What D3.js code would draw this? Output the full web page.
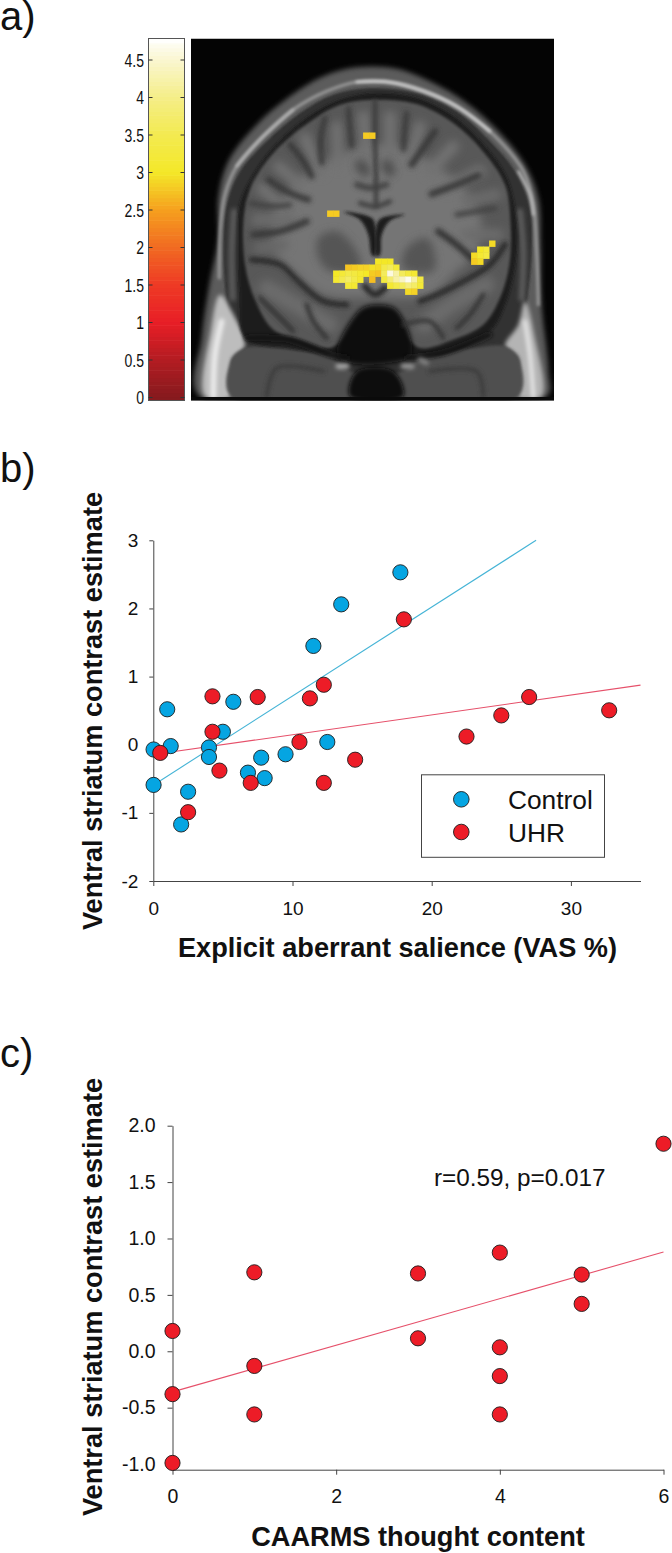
<!DOCTYPE html>
<html>
<head>
<meta charset="utf-8">
<script src="https://cdn.jsdelivr.net/npm/d3@7"></script>
<style>
  body { margin: 0; background: #fff; }
  svg { display: block; }
  text { font-family: "Liberation Sans", Arial, sans-serif; fill: #111; }
</style>
</head>
<body>
<div id="chart"></div>
<script>
// panel b
var controlX = [0.02, 1.0, 1.25, 0.02, 2.5, 2.0, 4.0, 4.0, 5.0, 5.75, 6.8, 7.75, 8.0, 9.5, 11.5, 12.5, 13.5, 17.75];
var controlY = [-0.07, 0.52, -0.02, -0.59, -0.69, -1.17, -0.04, -0.18, 0.19, 0.63, -0.41, -0.19, -0.49, -0.14, 1.45, 0.04, 2.06, 2.53];
var uhrX = [0.5, 2.5, 4.25, 4.25, 4.75, 7.0, 7.5, 10.5, 11.25, 12.25, 12.25, 14.5, 18.0, 22.5, 25.0, 27.0, 32.75];
var uhrY = [-0.12, -0.99, 0.71, 0.19, -0.38, -0.56, 0.70, 0.04, 0.68, 0.88, -0.56, -0.22, 1.84, 0.12, 0.43, 0.70, 0.505];
var controlFit = [[0.02, -0.59], [27.5, 3]];
var uhrFit = [[0.5, -0.13], [35, 0.875]];
var salienceTicks = [0, 10, 20, 30];
var contrastTicks = [-2, -1, 0, 1, 2, 3];

// panel c
var caarmsX = [0, 0, 0, 1, 1, 1, 3, 3, 4, 4, 4, 4, 5, 5, 6];
var caarmsY = [0.18, -0.38, -0.99, 0.70, -0.13, -0.56, 0.69, 0.115, 0.875, 0.035, -0.22, -0.56, 0.68, 0.42, 1.84];
var caarmsFit = [[0, -0.36], [6, 0.88]];
var caarmsTicks = [0, 2, 4, 6];
var caarmsYTicks = [-1, -0.5, 0, 0.5, 1, 1.5, 2];

// panel a colour bar
var barTicks = [0, 0.5, 1, 1.5, 2, 2.5, 3, 3.5, 4, 4.5];
var barValues = [0, 0.5, 1, 1.5, 2, 2.5, 3, 3.5, 4, 4.5, 4.8];
var barColors = ["#861a1e", "#b31c22", "#e81e26", "#ee3a25", "#f16a22", "#f6a01e", "#f4e828", "#f3ea50", "#f5ee88", "#faf6d0", "#ffffff"];

// activation voxels, [column, row, t value]
var voxels = [
  [5, -21, 2.8], [6, -21, 2.8], [-1, -8, 2.8], [0, -8, 2.8],
  [26, -3, 2.9], [24, -2, 3.0], [25, -2, 3.2], [23, -1, 2.9], [24, -1, 3.1], [25, -1, 3.3], [23, 0, 2.8], [24, 0, 2.9],
  [7, 0, 3.0], [8, 0, 3.0], [9, 0, 3.0],
  [2, 1, 2.75], [3, 1, 2.8], [4, 1, 2.85], [5, 1, 2.85], [6, 1, 2.95], [7, 1, 2.9], [8, 1, 3.4], [9, 1, 3.6], [10, 1, 3.2],
  [0, 2, 3.0], [1, 2, 3.2], [2, 2, 3.4], [3, 2, 3.3], [4, 2, 3.1], [5, 2, 3.0], [6, 2, 2.8], [7, 2, 2.75], [8, 2, 3.6], [9, 2, 4.6], [10, 2, 4.2], [11, 2, 3.6], [12, 2, 3.3], [13, 2, 3.1],
  [0, 3, 3.1], [1, 3, 3.5], [2, 3, 3.7], [3, 3, 3.4], [4, 3, 3.1], [6, 3, 2.7], [8, 3, 3.3], [9, 3, 3.8], [10, 3, 4.2], [11, 3, 4.4], [12, 3, 4.7], [13, 3, 4.2], [14, 3, 3.3],
  [2, 4, 3.2], [3, 4, 3.1], [9, 4, 3.1], [10, 4, 3.4], [11, 4, 3.6], [12, 4, 3.9], [13, 4, 3.7], [14, 4, 3.2],
  [12, 5, 2.9], [13, 5, 2.85]
];

// backdrop scan, traced by hand: [points, fill, stroke, stroke width, blur, closed]
var scanLayers = [
  [[[28,1075],[35,900],[60,730],[85,600],[85,480],[115,370],[200,260],[300,175],[400,115],[500,88],[620,92],[720,130],[830,195],[930,285],[1005,380],[1045,480],[1052,620],[1055,800],[1075,1000],[1070,1075]], "#5c5c5c", null, 0, 4, true],
  [[[135,990],[110,800],[100,640],[110,500],[150,400],[230,310],[330,225],[430,170],[540,150],[680,165],[800,220],[900,310],[975,400],[1020,510],[1025,650],[1010,800],[985,990]], "#303030", null, 0, 1.5, true],
  [[[88,720],[92,560],[105,470],[140,385],[210,305],[310,215],[410,160],[500,132],[620,135],[720,165],[830,225],[930,310],[1000,400],[1030,500],[1040,640],[1045,800]], null, "#989898", 7, 2, false],
  [[[500,132],[600,133],[700,160],[800,205],[900,280]], null, "#d0d0d0", 6, 2, false],
  [[[140,385],[210,305],[310,215]], null, "#b8b8b8", 5, 2, false],
  [[[985,400],[1020,470],[1030,530]], null, "#c4c4c4", 5, 2, false],
  // inner gray band along the sides
  [[[128,780],[125,640],[132,520]], null, "#5a5a5a", 14, 3, false],
  [[[995,780],[1000,640],[990,520]], null, "#5a5a5a", 14, 3, false],
  // bright fat by the ears
  [[[45,1075],[62,880],[90,770],[125,820],[165,925],[125,965],[122,1075]], "#bdbdbd", null, 0, 3, true],
  [[[985,1075],[985,960],[945,925],[985,860],[1005,790],[1035,900],[1055,1075]], "#b4b4b4", null, 0, 3, true],
  [[[70,1075],[75,950],[95,850]], null, "#eee", 12, 3, false],
  [[[1030,1075],[1020,950],[1005,850]], null, "#eee", 8, 3, false],
  // lower face
  [[[165,930],[260,930],[420,960],[480,1000],[640,1000],[700,950],[850,930],[945,925],[985,960],[985,1075],[122,1075],[125,965]], "#505050", null, 0, 2.5, true],
  [[[230,1075],[260,990],[400,1000]], null, "#3a3a3a", 8, 3, false],
  [[[880,1075],[860,1000],[720,1000]], null, "#3a3a3a", 8, 3, false],
  // dark ring round the brain
  [[[165,900],[148,760],[145,620],[150,500],[185,420],[250,330],[350,240],[450,185],[560,165],[680,180],[790,235],[880,320],[950,420],[980,560],[975,680],[945,800],[900,880],[760,950],[660,950],[460,950],[300,930]], "#1a1a1a", null, 0, 2.5, true],
  // brain
  [[[162,530],[188,435],[250,345],[350,258],[450,200],[560,185],[680,198],[790,255],[875,335],[945,440],[962,560],[958,680],[930,780],[880,860],[790,905],[690,930],[630,880],[560,830],[490,880],[420,930],[330,905],[250,875],[195,785],[165,680]], "#585858", null, 0, 2.5, true],
  // white matter
  [[[260,510],[320,430],[410,370],[500,330],[560,320],[640,330],[720,370],[810,440],[870,530],[860,640],[790,710],[720,770],[560,780],[400,770],[320,710],[250,630]], "#747474", null, 0, 7, true],
  // gyri reaching out of the white matter
  [[[530,360],[520,235]], null, "#727272", 26, 6, false],
  [[[445,380],[440,265]], null, "#727272", 24, 6, false],
  [[[390,400],[345,300]], null, "#727272", 26, 6, false],
  [[[330,440],[265,385]], null, "#727272", 24, 6, false],
  [[[300,530],[215,450]], null, "#727272", 24, 6, false],
  [[[300,545],[200,545]], null, "#6c6c6c", 26, 6, false],
  [[[280,620],[210,630]], null, "#686868", 26, 6, false],
  [[[600,360],[600,235]], null, "#727272", 26, 6, false],
  [[[660,370],[690,265]], null, "#727272", 26, 6, false],
  [[[720,400],[790,325]], null, "#727272", 26, 6, false],
  [[[770,450],[870,400]], null, "#727272", 26, 6, false],
  [[[830,490],[920,470]], null, "#6c6c6c", 24, 6, false],
  [[[830,590],[925,590]], null, "#6c6c6c", 26, 6, false],
  // temporal lobes
  [[[230,750],[300,790],[420,860]], null, "#6c6c6c", 36, 7, false],
  [[[890,740],[800,790],[700,860]], null, "#6c6c6c", 36, 7, false],
  // basal ganglia
  [[[385,600],[440,580],[500,640],[510,690],[420,700],[385,660]], "#545454", null, 0, 6, true],
  [[[640,690],[650,630],[710,600],[735,650],[730,700]], "#545454", null, 0, 6, true],
  // hollow below the brain
  [[[510,815],[560,800],[620,815],[665,950],[600,975],[480,975],[440,950]], "#0a0a0a", null, 0, 4, true],
  [[[480,1075],[500,1000],[610,1000],[640,1075]], "#080808", null, 0, 3, true],
  // ventricles
  [[[462,522],[510,545],[535,590],[545,650],[555,655],[555,560],[545,540]], "#1c1c1c", null, 0, 2.5, true],
  [[[645,530],[600,548],[575,590],[570,650],[560,655],[560,560],[575,540]], "#1c1c1c", null, 0, 2.5, true],
  // midline
  [[[555,190],[555,300],[558,420],[558,505]], null, "#3a3a3a", 9, 3.5, false],
  [[[500,440],[540,450],[590,440]], null, "#404040", 12, 4, false],
  [[[510,495],[555,505],[600,490]], null, "#404040", 10, 3, false],
  [[[510,380],[525,400]], null, "#484848", 22, 6, false],
  [[[590,380],[600,400]], null, "#484848", 22, 6, false],
  // sulci, left side
  [[[405,240],[392,300],[395,375]], null, "#383838", 11, 4, false],
  [[[475,210],[480,270],[485,325]], null, "#383838", 10, 4, false],
  [[[300,320],[340,370],[365,415]], null, "#383838", 13, 4, false],
  [[[235,425],[290,460],[355,485]], null, "#383838", 13, 4, false],
  [[[180,495],[250,505],[300,500]], null, "#424242", 11, 4, false],
  [[[190,590],[270,580],[350,550]], null, "#383838", 14, 4, false],
  [[[185,665],[270,680],[325,730],[400,790],[470,800]], null, "#2a2a2a", 12, 3.5, false],
  [[[210,780],[260,830],[310,880]], null, "#343434", 10, 3, false],
  [[[350,800],[370,850],[410,900]], null, "#343434", 10, 3, false],
  // sulci, right side
  [[[650,225],[645,270],[640,335]], null, "#383838", 10, 4, false],
  [[[735,280],[700,330],[665,380]], null, "#383838", 14, 4, false],
  [[[865,412],[800,440],[725,468]], null, "#383838", 14, 4, false],
  [[[915,510],[860,520],[800,530]], null, "#424242", 11, 4, false],
  [[[745,580],[800,620],[850,665]], null, "#303030", 14, 4, false],
  [[[945,620],[900,680],[820,730],[740,770],[690,790]], null, "#2a2a2a", 12, 3.5, false],
  [[[880,770],[840,830],[800,870]], null, "#343434", 10, 3, false],
  [[[640,860],[720,850],[760,900]], null, "#343434", 9, 3, false],
  [[[525,745],[555,770],[585,750]], null, "#2c2c2c", 14, 3.5, false],
  // bottom of the brain
  [[[170,900],[300,905],[420,950],[470,960]], null, "#141414", 10, 3, false],
  [[[650,960],[760,945],[900,890]], null, "#141414", 10, 3, false],
  // bright spots in the skull base
  [[[445,985],[470,985]], null, "#aaa", 12, 3, false],
  [[[640,985],[665,985]], null, "#999", 12, 3, false],
  [[[690,965],[710,975]], null, "#888", 10, 3, false]
];

var width = 672, height = 1553;
var svg = d3.select("#chart").append("svg").attr("width", width).attr("height", height);
var defs = svg.append("defs");

function panelLetter(label, y) {
  svg.append("text").attr("x", 0).attr("y", y).attr("font-size", 40).text(label);
}

function blurId(b) {
  var id = "blur" + String(b).replace(".", "_");
  if (defs.select("#" + id).empty()) {
    defs.append("filter").attr("id", id)
      .attr("filterUnits", "userSpaceOnUse")
      .attr("x", 150).attr("y", 0).attr("width", 450).attr("height", 450)
      .append("feGaussianBlur").attr("stdDeviation", b);
  }
  return "url(#" + id + ")";
}

// ---------- panel a ----------
panelLetter("a)", 30);

var barY = d3.scaleLinear().domain([0, 4.5]).range([397.5, 60]);
var barColor = d3.scaleLinear().domain(barValues).range(barColors);
var barSteps = d3.range(-0.04, 4.8, 0.05);
var bar = svg.append("g");
bar.selectAll("rect").data(barSteps).enter().append("rect")
  .attr("x", 148.5).attr("width", 36)
  .attr("y", function (d) { return Math.max(barY(d + 0.05) - 0.3, 38.5); })
  .attr("height", function (d) { return barY(d) - barY(d + 0.05) + 0.6; })
  .attr("fill", function (d) { return barColor(Math.max(d + 0.025, 0)); });
bar.append("rect").attr("x", 148.5).attr("y", 38.5).attr("width", 36).attr("height", 362)
  .attr("fill", "none").attr("stroke", "#555").attr("stroke-width", 1);
barTicks.forEach(function (t) {
  bar.append("line").attr("x1", 148.5).attr("x2", 152.5).attr("y1", barY(t)).attr("y2", barY(t)).attr("stroke", "#333");
  bar.append("line").attr("x1", 180.5).attr("x2", 184.5).attr("y1", barY(t)).attr("y2", barY(t)).attr("stroke", "#333");
  bar.append("text")
    .attr("transform", "translate(144," + (barY(t) + 6.5) + ") scale(0.8,1)")
    .attr("text-anchor", "end").attr("font-size", 17.5).text(t);
});

var scanX = d3.scaleLinear().domain([0, 1095]).range([190, 555]);
var scanY = d3.scaleLinear().domain([0, 1095]).range([38, 403]);
defs.append("clipPath").attr("id", "scanClip").append("rect")
  .attr("x", 191).attr("y", 38.5).attr("width", 363).attr("height", 362);
var scan = svg.append("g").attr("clip-path", "url(#scanClip)");
scan.append("rect").attr("x", 191).attr("y", 38.5).attr("width", 363).attr("height", 362).attr("fill", "#040404");
scanLayers.forEach(function (l) {
  var line = d3.line()
    .x(function (d) { return scanX(d[0]); })
    .y(function (d) { return scanY(d[1]); })
    .curve(l[5] ? d3.curveCatmullRomClosed : d3.curveCatmullRom);
  scan.append("path").attr("d", line(l[0]))
    .attr("fill", l[1] || "none")
    .attr("stroke", l[2] || "none")
    .attr("stroke-width", l[3] / 2.2)
    .attr("stroke-linecap", "round")
    .attr("filter", blurId(l[4] / 1.5));
});
scan.append("rect").attr("x", 191).attr("y", 397).attr("width", 363).attr("height", 4).attr("fill", "#0a0a0a");

// voxels sit on one grid
var voxX = d3.scaleLinear().domain([0, 1]).range([333.3, 339.3]);
var voxY = d3.scaleLinear().domain([0, 1]).range([258.7, 264.7]);
scan.append("g").attr("filter", blurId(0.7))
  .selectAll("rect").data(voxels).enter().append("rect")
  .attr("x", function (d) { return voxX(d[0]) - 0.2; })
  .attr("y", function (d) { return voxY(d[1]) - 0.2; })
  .attr("width", 6.4).attr("height", 6.4)
  .attr("fill", function (d) { return barColor(d[2]); });

// ---------- shared for the scatter panels ----------
function styleAxis(g, size) {
  g.selectAll(".domain").attr("stroke", "#444");
  g.selectAll(".tick line").attr("stroke", "#444");
  g.selectAll(".tick text").attr("font-size", size).attr("fill", "#111")
    .style("font-family", '"Liberation Sans", Arial, sans-serif');
}

function dots(parent, xs, ys, x, y, color) {
  parent.selectAll("circle.dot-" + color.slice(1)).data(xs).enter().append("circle")
    .attr("class", "dot-" + color.slice(1))
    .attr("cx", function (d) { return x(d); })
    .attr("cy", function (d, i) { return y(ys[i]); })
    .attr("r", 7.6)
    .attr("fill", color)
    .attr("stroke", "#1c1c1c")
    .attr("stroke-width", 0.9);
}

function fitLine(parent, pts, x, y, color) {
  parent.append("line")
    .attr("x1", x(pts[0][0])).attr("y1", y(pts[0][1]))
    .attr("x2", x(pts[1][0])).attr("y2", y(pts[1][1]))
    .attr("stroke", color).attr("stroke-width", 1.1);
}

function yTitle(cy) {
  svg.append("text")
    .attr("transform", "translate(102," + cy + ") rotate(-90)")
    .attr("text-anchor", "middle").attr("font-size", 27.2).attr("font-weight", "bold")
    .text("Ventral striatum contrast estimate");
}

var blue = "#05a5e2", red = "#ed1c27";

// ---------- panel b ----------
panelLetter("b)", 482);

var bx = d3.scaleLinear().domain([0, 35]).range([153.3, 640.5]);
var by = d3.scaleLinear().domain([-2, 3]).range([881, 540.3]);

var bAxisX = svg.append("g").attr("transform", "translate(0,881)")
  .call(d3.axisBottom(bx).tickValues(salienceTicks).tickSizeInner(5).tickSizeOuter(0).tickPadding(16).tickFormat(d3.format("d")));
styleAxis(bAxisX, 19);
var bAxisY = svg.append("g").attr("transform", "translate(153.3,0)")
  .call(d3.axisLeft(by).tickValues(contrastTicks).tickSizeInner(4).tickSizeOuter(0).tickPadding(11).tickFormat(function (d) { return String(d); }));
styleAxis(bAxisY, 19);

fitLine(svg, controlFit, bx, by, "#45b4d6");
fitLine(svg, uhrFit, bx, by, "#e6506a");
var bDots = svg.append("g");
dots(bDots, controlX, controlY, bx, by, blue);
dots(bDots, uhrX, uhrY, bx, by, red);

yTitle(711);
svg.append("text").attr("x", 397.5).attr("y", 957).attr("text-anchor", "middle")
  .attr("font-size", 27.2).attr("font-weight", "bold").text("Explicit aberrant salience (VAS %)");

var legend = svg.append("g");
legend.append("rect").attr("x", 421.5).attr("y", 774.8).attr("width", 183).attr("height", 82.5)
  .attr("fill", "#fff").attr("stroke", "#444").attr("stroke-width", 1);
[["Control", blue, 799.3, 809], ["UHR", red, 832, 841.7]].forEach(function (e) {
  legend.append("circle").attr("cx", 461.3).attr("cy", e[2]).attr("r", 7.8)
    .attr("fill", e[1]).attr("stroke", "#1c1c1c").attr("stroke-width", 0.9);
  legend.append("text").attr("x", 508).attr("y", e[3]).attr("font-size", 26.3).text(e[0]);
});

// ---------- panel c ----------
panelLetter("c)", 1067);

var cx = d3.scaleLinear().domain([0, 6]).range([172.5, 663.5]);
var cy = d3.scaleLinear().domain([-1.05, 2]).range([1469.7, 1125.7]);

var cAxisX = svg.append("g").attr("transform", "translate(0,1469.7)")
  .call(d3.axisBottom(cx).tickValues(caarmsTicks).tickSizeInner(5).tickSizeOuter(0).tickPadding(14).tickFormat(d3.format("d")));
styleAxis(cAxisX, 19.5);
var cAxisY = svg.append("g").attr("transform", "translate(172.5,0)")
  .call(d3.axisLeft(cy).tickValues(caarmsYTicks).tickSizeInner(5).tickSizeOuter(0).tickPadding(12).tickFormat(d3.format(".1f")));
styleAxis(cAxisY, 19.5);
cAxisY.selectAll(".tick text").text(function (d) { return d3.format(".1f")(d).replace("−", "-"); });

fitLine(svg, caarmsFit, cx, cy, "#e6506a");
var cDots = svg.append("g");
dots(cDots, caarmsX, caarmsY, cx, cy, red);

yTitle(1297);
svg.append("text").attr("x", 418).attr("y", 1546).attr("text-anchor", "middle")
  .attr("font-size", 27.2).attr("font-weight", "bold").text("CAARMS thought content");
svg.append("text").attr("x", 434).attr("y", 1186).attr("font-size", 24.3).text("r=0.59, p=0.017");
</script>
</body>
</html>
